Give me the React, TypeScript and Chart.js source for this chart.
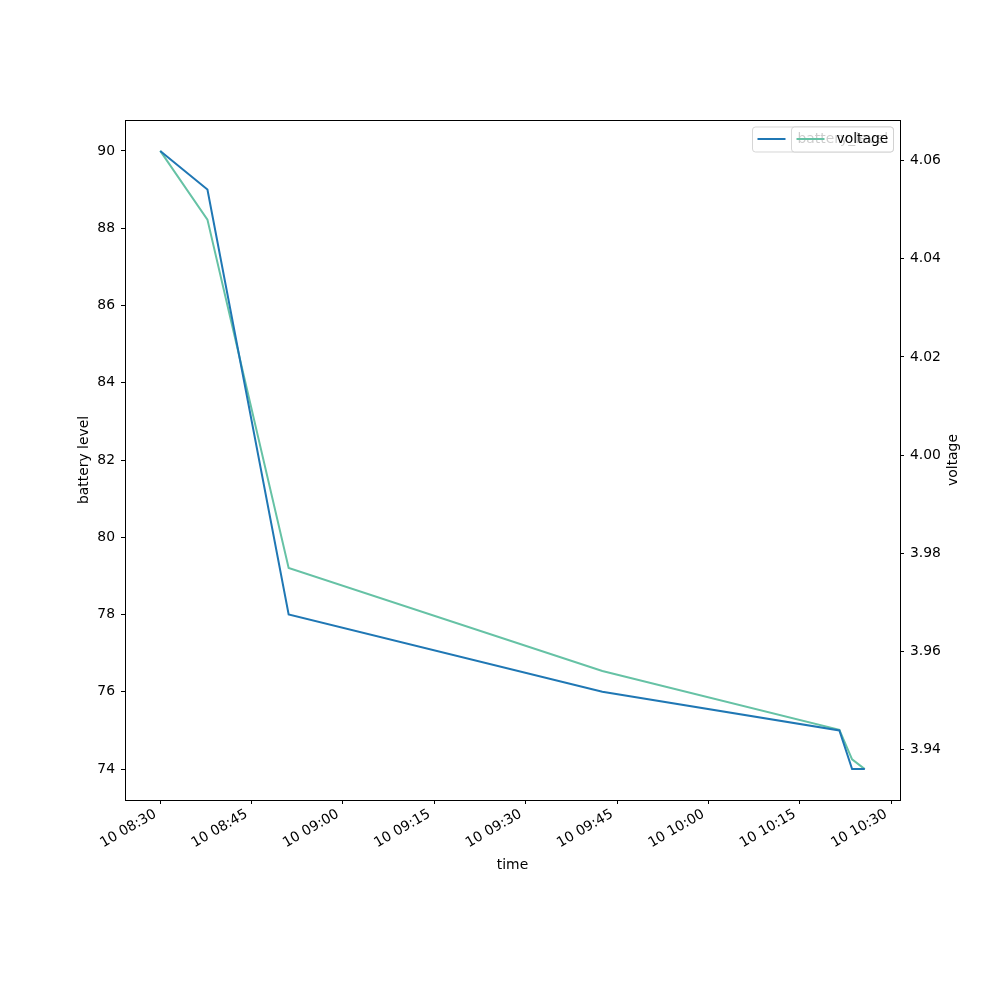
import React, { useEffect, useRef } from "react";
import { Chart, registerables } from "chart.js";

Chart.register(...registerables);

// Data (times are "day HH:MM:SS")
const timeLabels = ["08:30:00", "08:37:45", "08:51:05", "09:42:35", "10:21:30", "10:23:35", "10:25:40"];
const batteryLevel = [90, 89, 78, 76, 75, 74, 74];
const voltage = [4.062, 4.048, 3.977, 3.956, 3.944, 3.938, 3.936];

const xTickMinutes = [0, 15, 30, 45, 60, 75, 90, 105, 120];
const leftTicks = [74, 76, 78, 80, 82, 84, 86, 88, 90];
const rightTicks = [3.94, 3.96, 3.98, 4.0, 4.02, 4.04, 4.06];

const DAY = "10";
const BASE_MIN = 8 * 60 + 30;

function toMinutes(t: string): number {
  const [h, m, s] = t.split(":").map(Number);
  return h * 60 + m + (s || 0) / 60 - BASE_MIN;
}
function fmtTime(v: number): string {
  const total = Math.round(v + BASE_MIN);
  const h = Math.floor(total / 60);
  const m = total % 60;
  return `${DAY} ${String(h).padStart(2, "0")}:${String(m).padStart(2, "0")}`;
}

const FONT = "'DejaVu Sans', sans-serif";
const FS = 13.9;
const BLUE = "#1f77b4";
const GREEN = "#66c2a5";

function withMargin(vals: number[], frac = 0.05): [number, number] {
  const mn = Math.min(...vals);
  const mx = Math.max(...vals);
  const d = (mx - mn) * frac;
  return [mn - d, mx + d];
}

export default function App() {
  const ref = useRef<HTMLCanvasElement>(null);
  useEffect(() => {
    if (!ref.current) return;
    const xs = timeLabels.map(toMinutes);
    const [xMin, xMax] = withMargin(xs);
    const [lMin, lMax] = withMargin(batteryLevel);
    const [rMin, rMax] = withMargin(voltage);

    const framePlugin = {
      id: "frame",
      afterDatasetsDraw(chart: any) {
        const { ctx, chartArea: a } = chart;
        ctx.save();
        ctx.strokeStyle = "#000";
        ctx.lineWidth = 1;
        ctx.strokeRect(Math.round(a.left) + 0.5, Math.round(a.top) + 0.5, Math.round(a.right - a.left), Math.round(a.bottom - a.top));
        ctx.restore();
      },
      afterDraw(chart: any) {
        const { ctx, chartArea: a } = chart;
        ctx.save();
        // right axis title
        ctx.font = `${FS}px ${FONT}`;
        ctx.fillStyle = "#000";
        ctx.translate(953, (a.top + a.bottom) / 2);
        ctx.rotate(-Math.PI / 2);
        ctx.textAlign = "center";
        ctx.textBaseline = "middle";
        ctx.fillText(chart.data.datasets[1].label, 0, 0);
        ctx.restore();

        // legends (two overlapping boxes like matplotlib)
        const drawLegend = (x0: number, x1: number, color: string, label: string) => {
          const y0 = 127, y1 = 152, r = 3;
          ctx.save();
          ctx.beginPath();
          ctx.moveTo(x0 + r, y0);
          ctx.lineTo(x1 - r, y0);
          ctx.quadraticCurveTo(x1, y0, x1, y0 + r);
          ctx.lineTo(x1, y1 - r);
          ctx.quadraticCurveTo(x1, y1, x1 - r, y1);
          ctx.lineTo(x0 + r, y1);
          ctx.quadraticCurveTo(x0, y1, x0, y1 - r);
          ctx.lineTo(x0, y0 + r);
          ctx.quadraticCurveTo(x0, y0, x0 + r, y0);
          ctx.closePath();
          ctx.fillStyle = "rgba(255,255,255,0.8)";
          ctx.fill();
          ctx.strokeStyle = "rgba(204,204,204,0.8)";
          ctx.lineWidth = 1;
          ctx.stroke();
          ctx.beginPath();
          ctx.strokeStyle = color;
          ctx.lineWidth = 2;
          ctx.moveTo(x0 + 5, 139);
          ctx.lineTo(x0 + 33, 139);
          ctx.stroke();
          ctx.fillStyle = "#000";
          ctx.font = `${FS}px ${FONT}`;
          ctx.textAlign = "left";
          ctx.textBaseline = "middle";
          ctx.fillText(label, x0 + 45, 139);
          ctx.restore();
        };
        drawLegend(752.5, 893.5, BLUE, chart.data.datasets[0].label);
        drawLegend(791.5, 893.5, GREEN, chart.data.datasets[1].label);
      },
    };

    const tickFont = { family: FONT, size: FS };
    const chart = new Chart(ref.current, {
      type: "line",
      data: {
        datasets: [
          {
            label: "battery_level",
            data: xs.map((x, i) => ({ x, y: batteryLevel[i] })),
            borderColor: BLUE,
            backgroundColor: BLUE,
            borderWidth: 2,
            pointRadius: 0,
            tension: 0,
            yAxisID: "y",
          },
          {
            label: "voltage",
            data: xs.map((x, i) => ({ x, y: voltage[i] })),
            borderColor: GREEN,
            backgroundColor: GREEN,
            borderWidth: 2,
            pointRadius: 0,
            tension: 0,
            yAxisID: "y1",
          },
        ],
      },
      options: {
        responsive: false,
        animation: false,
        layout: { padding: { top: 120, bottom: 120, left: 0, right: 0 } },
        plugins: { legend: { display: false }, tooltip: { enabled: false } },
        scales: {
          x: {
            type: "linear",
            min: xMin,
            max: xMax,
            afterBuildTicks: (s: any) => { s.ticks = xTickMinutes.map((v) => ({ value: v })); },
            afterFit: (s: any) => { s.height = 80; },
            ticks: {
              color: "#000",
              font: tickFont,
              minRotation: 30,
              maxRotation: 30,
              padding: 2,
              labelOffset: -5,
              autoSkip: false,
              callback: (v: any) => fmtTime(Number(v)),
            },
            grid: { drawOnChartArea: false, drawTicks: true, tickLength: 4, color: "#000" },
            border: { display: false },
            title: { display: true, text: "time", color: "#000", font: tickFont, padding: { top: 0, bottom: 6 } },
          },
          y: {
            type: "linear",
            position: "left",
            min: lMin,
            max: lMax,
            afterBuildTicks: (s: any) => { s.ticks = leftTicks.map((v) => ({ value: v })); },
            afterFit: (s: any) => { s.width = 125; },
            ticks: { color: "#000", font: tickFont, padding: 6, callback: (v: any) => String(v) },
            grid: { drawOnChartArea: false, drawTicks: true, tickLength: 4, color: "#000" },
            border: { display: false },
            title: { display: true, text: "battery level", color: "#000", font: tickFont, padding: { top: 76, bottom: 0 } },
          },
          y1: {
            type: "linear",
            position: "right",
            min: rMin,
            max: rMax,
            afterBuildTicks: (s: any) => { s.ticks = rightTicks.map((v) => ({ value: v })); },
            afterFit: (s: any) => { s.width = 100; },
            ticks: { color: "#000", font: tickFont, padding: 6, callback: (v: any) => Number(v).toFixed(2) },
            grid: { drawOnChartArea: false, drawTicks: true, tickLength: 4, color: "#000" },
            border: { display: false },
          },
        },
      },
      plugins: [framePlugin],
    } as any);
    return () => chart.destroy();
  }, []);

  return (
    <div style={{ position: "fixed", left: 0, top: 0, width: 1000, height: 1000, background: "#fff" }}>
      <canvas ref={ref} width={1000} height={1000} />
    </div>
  );
}
